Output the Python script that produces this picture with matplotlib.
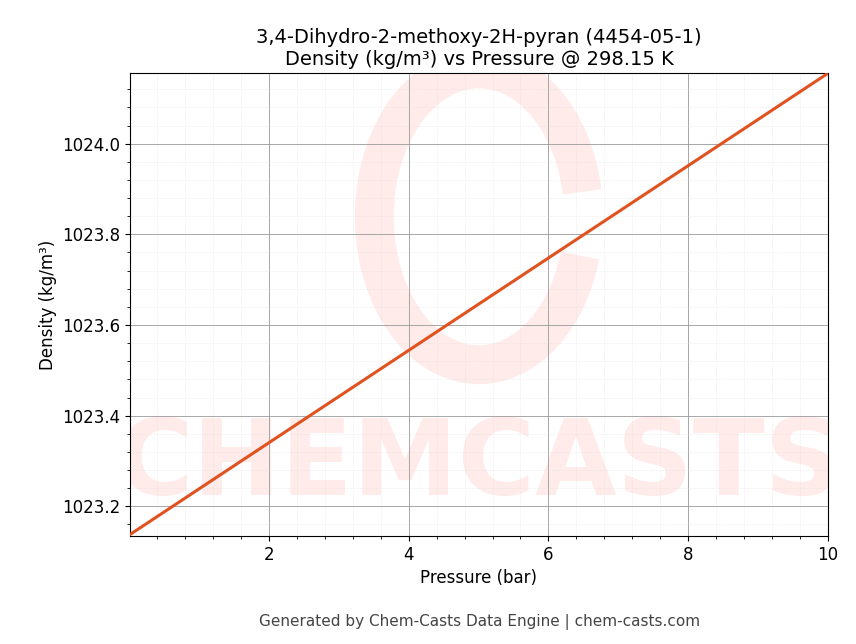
import matplotlib
matplotlib.use("Agg")
import matplotlib.pyplot as plt
import numpy as np
from matplotlib.ticker import AutoMinorLocator
from matplotlib.patches import Arc

### Data
pressure = [0.01, 10.0]
density = [1023.138, 1024.155]

fig = plt.figure(figsize=(8.56, 6.44), dpi=100)
ax = fig.add_axes([0.152, 0.168, 0.815, 0.718])

# watermark
wm = ax.text(0.5, 0.15, "CHEMCASTS", transform=ax.transAxes, ha="center", va="center",
             fontsize=76, fontweight="bold", color="#ff3b30", alpha=0.1, zorder=0)
wm.set_clip_on(True)
ax.add_patch(Arc((0.5, 0.69), 0.3, 0.64, transform=ax.transAxes, theta1=20, theta2=330,
                 lw=28, color="#ff3b30", alpha=0.1, zorder=0))

ax.plot(pressure, density, color="#e0521f", lw=2.2, zorder=3)

ax.set_xlim(0.01, 10)
ax.set_ylim(1023.135, 1024.155)
ax.set_xticks([2, 4, 6, 8, 10])
ax.set_yticks([1023.2, 1023.4, 1023.6, 1023.8, 1024.0])
ax.xaxis.set_minor_locator(AutoMinorLocator(5))
ax.yaxis.set_minor_locator(AutoMinorLocator(5))
ax.grid(which="major", color="#999999", lw=0.6)
ax.grid(which="minor", color="#dddddd", lw=0.4, ls=":")
ax.tick_params(labelsize=12)

ax.set_xlabel("Pressure (bar)", fontsize=12)
ax.set_ylabel("Density (kg/m³)", fontsize=12)
ax.set_title("3,4-Dihydro-2-methoxy-2H-pyran (4454-05-1)\nDensity (kg/m³) vs Pressure @ 298.15 K",
             fontsize=14)
fig.text(0.56, 0.028, "Generated by Chem-Casts Data Engine | chem-casts.com",
         ha="center", fontsize=11, color="#444444")

fig.savefig("out.png", dpi=100)
